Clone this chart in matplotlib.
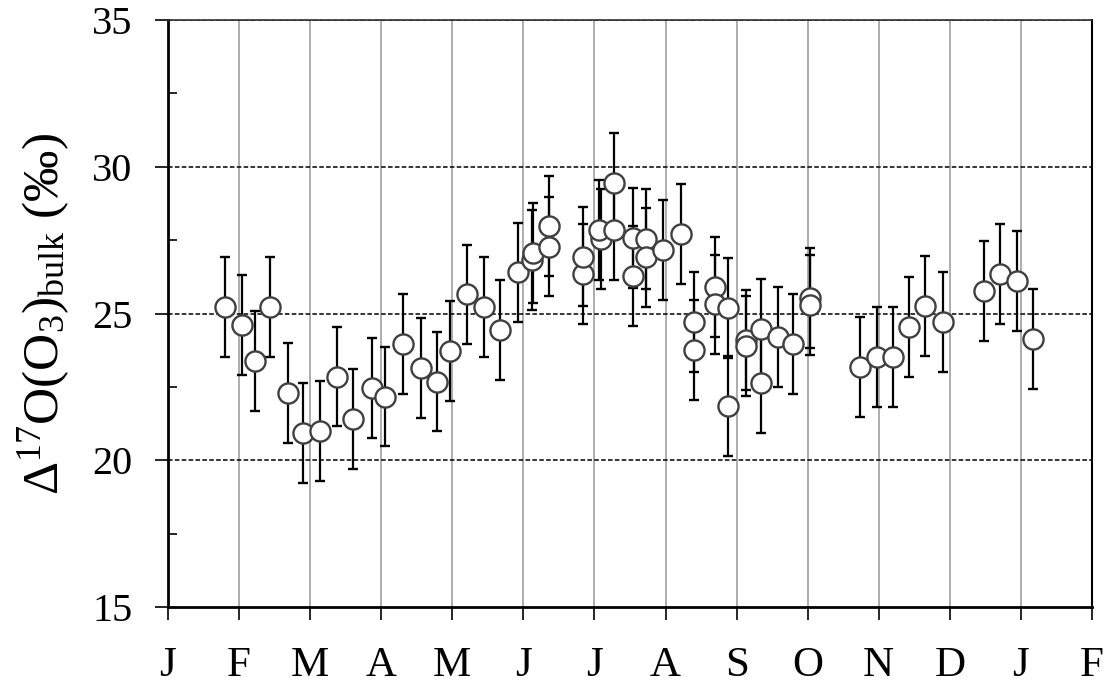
import matplotlib
matplotlib.use("Agg")
from matplotlib import pyplot as plt
from matplotlib.ticker import MultipleLocator

# month position (0 = start of Jan, uniform months) and bulk D17O values (permil)
month = [0.80, 1.04, 1.23, 1.44, 1.69, 1.90, 2.14, 2.38, 2.61, 2.87,
         3.05, 3.30, 3.56, 3.78, 3.97, 4.21, 4.45, 4.67, 4.93, 5.12,
         5.13, 5.36, 5.36, 5.84, 5.84, 6.09, 6.07, 6.27, 6.27, 6.54,
         6.54, 6.73, 6.73, 6.97, 7.22, 7.40, 7.40, 7.69, 7.69, 7.88,
         7.88, 8.13, 8.13, 8.34, 8.34, 8.58, 8.80, 9.03, 9.03, 9.74,
         9.98, 10.20, 10.42, 10.65, 10.91, 11.48, 11.70, 11.94, 12.17]
d17o = [25.23, 24.61, 23.38, 25.23, 22.28, 20.94, 21.00, 22.85, 21.41, 22.45,
        22.17, 23.95, 23.13, 22.68, 23.73, 25.65, 25.23, 24.44, 26.40, 26.82,
        27.05, 27.28, 27.98, 26.34, 26.94, 27.53, 27.84, 29.44, 27.84, 27.56,
        26.28, 27.53, 26.91, 27.16, 27.70, 24.72, 23.76, 25.91, 25.31, 25.18,
        21.86, 24.10, 23.89, 24.46, 22.62, 24.21, 23.95, 25.52, 25.29, 23.19,
        23.51, 23.51, 24.55, 25.26, 24.72, 25.77, 26.35, 26.12, 24.12]
err = [1.7] * len(d17o)

month_labels = ['J', 'F', 'M', 'A', 'M', 'J', 'J', 'A', 'S', 'O', 'N', 'D', 'J', 'F']

plt.rcParams['font.family'] = ['Liberation Serif', 'DejaVu Serif']
plt.rcParams['mathtext.fontset'] = 'custom'
plt.rcParams['mathtext.rm'] = 'Liberation Serif'
plt.rcParams['mathtext.it'] = 'Liberation Serif:italic'

fig = plt.figure(figsize=(11.11, 6.9), dpi=100)
ax = fig.add_axes([0.1512, 0.1203, 0.8317, 0.8507])

# grid: gray verticals at month boundaries, dashed black horizontals
for m in range(1, 13):
    ax.axvline(m, color='#a0a0a0', lw=1.2, zorder=0)
for yv in [20, 25, 30, 35]:
    ax.axhline(yv, color='black', lw=1.1, dashes=(3, 1.5), zorder=0)

ax.errorbar(month, d17o, yerr=err, fmt='o', color='black', ecolor='black',
            elinewidth=1.6, capsize=3.8, capthick=1.6,
            mfc='white', mec='#404040', mew=1.7, ms=14.5)

ax.set_xlim(0, 13)
ax.set_ylim(15, 35)
ax.set_xticks(range(14))
ax.set_xticklabels(month_labels)
ax.yaxis.set_major_locator(MultipleLocator(5))
ax.yaxis.set_minor_locator(MultipleLocator(2.5))

ax.tick_params(axis='x', direction='out', length=9.5, width=1.2, labelsize=31, pad=19)
ax.tick_params(axis='y', which='major', direction='out', length=9.5, width=1.2, labelsize=29, pad=16)
ax.tick_params(axis='y', which='minor', direction='in', length=6.5, width=1.2)

for side in ['left', 'bottom']:
    ax.spines[side].set_linewidth(2)
ax.spines['right'].set_linewidth(1.5)
ax.spines['top'].set_linewidth(1.2)
ax.spines['top'].set_color('#303030')

ax.set_ylabel(r'Δ$^{17}$O(O$_3$)$_{\rm bulk}$ (‰)', fontsize=37)
ax.yaxis.set_label_coords(-0.104, 0.5)

plt.savefig('out.png', dpi=100)
